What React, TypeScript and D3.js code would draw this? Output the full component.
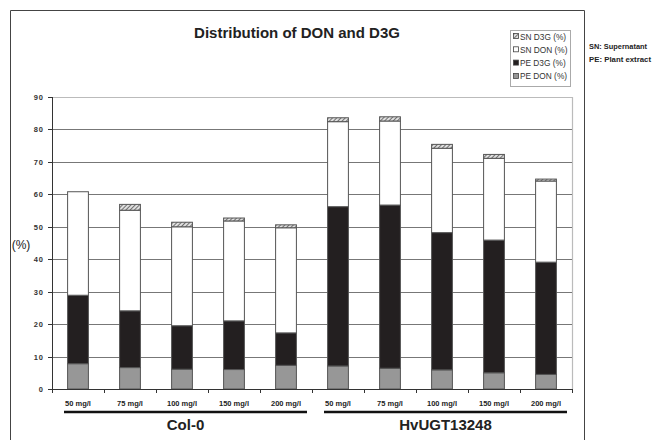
import React from "react";
import * as d3 from "d3";

const categories = [
  "50 mg/l", "75 mg/l", "100 mg/l", "150 mg/l", "200 mg/l",
  "50 mg/l ", "75 mg/l ", "100 mg/l ", "150 mg/l ", "200 mg/l ",
];
const peDON = [7.8, 6.6, 6.1, 6.0, 7.3, 7.1, 6.4, 5.9, 5.0, 4.5];
const peD3G = [21.1, 17.5, 13.4, 15.0, 10.0, 49.1, 50.3, 42.3, 40.9, 34.6];
const snDON = [31.9, 31.0, 30.5, 30.8, 32.4, 26.2, 25.9, 26.0, 25.2, 25.0];
const snD3G = [0, 1.8, 1.4, 0.9, 0.9, 1.2, 1.3, 1.2, 1.2, 0.6];
const yTicks = [0, 10, 20, 30, 40, 50, 60, 70, 80, 90];
const groups = [
  { name: "Col-0", from: 0, to: 4 },
  { name: "HvUGT13248", from: 5, to: 9 },
];
const seriesKeys = ["peDON", "peD3G", "snDON", "snD3G"];
const legendLabels = ["SN D3G (%)", "SN DON (%)", "PE D3G (%)", "PE DON (%)"];
const legendKeys = ["snD3G", "snDON", "peD3G", "peDON"];

const fills: Record<string, string> = {
  peDON: "#979797",
  peD3G: "#231f20",
  snDON: "#ffffff",
  snD3G: "url(#hatch)",
};

export default function App() {
  const left = 52, right = 572, top = 97, bottom = 389;
  const x = d3.scaleBand<string>().domain(categories).range([left, right]).paddingInner(0.6).paddingOuter(0.3);
  const band = d3.scaleBand<string>().domain(categories).range([left, right]);
  const y = d3.scaleLinear().domain([0, 90]).range([bottom, top]);

  const rows = categories.map((c, i) => ({
    cat: c, peDON: peDON[i], peD3G: peD3G[i], snDON: snDON[i], snD3G: snD3G[i],
  }));
  const stack = d3.stack<any>().keys(seriesKeys)(rows);

  const font = "Arial, 'Liberation Sans', sans-serif";
  const bw = band.bandwidth();

  return (
    <svg width={652} height={440} style={{ position: "absolute", left: 0, top: 0, background: "#fff" }}>
      <defs>
        <pattern id="hatch" patternUnits="userSpaceOnUse" width="3" height="3" patternTransform="rotate(45)">
          <rect width="3" height="3" fill="#e0e0e0" />
          <line x1="0" y1="0" x2="0" y2="3" stroke="#555" strokeWidth="1.6" />
        </pattern>
      </defs>
      <rect x={0} y={0} width={652} height={440} fill="#fff" />
      {/* outer frame */}
      <path d="M10.5,445 V10.5 H584.5 V445" fill="none" stroke="#444" strokeWidth={1} />
      {/* title */}
      <text x={297} y={38} textAnchor="middle" fontFamily={font} fontWeight="bold" fontSize={15} fill="#222">
        Distribution of DON and D3G
      </text>
      {/* plot border light */}
      <path d={`M${left},${top + 0.5} H${right + 0.5} V${bottom}`} fill="none" stroke="#bbb" strokeWidth={1.2} />
      {/* gridlines */}
      {yTicks.filter(t => t > 0 && t < 90).map(t => (
        <line key={t} x1={left} x2={right} y1={Math.round(y(t)) + 0.5} y2={Math.round(y(t)) + 0.5} stroke="#777" strokeWidth={1} />
      ))}
      {/* bars */}
      {stack.map(s => (
        <g key={s.key}>
          {s.map((d: any, i: number) => {
            const h = y(d[0]) - y(d[1]);
            if (h <= 0) return null;
            return (
              <rect key={i} x={x(categories[i])!} y={y(d[1])} width={x.bandwidth()} height={h}
                fill={fills[s.key]} stroke="#555" strokeWidth={1} />
            );
          })}
        </g>
      ))}
      {/* axes */}
      <line x1={left + 0.5} x2={left + 0.5} y1={top} y2={bottom} stroke="#333" strokeWidth={1} />
      <line x1={left} x2={right} y1={bottom + 0.5} y2={bottom + 0.5} stroke="#333" strokeWidth={1} />
      {yTicks.map(t => (
        <g key={t}>
          <line x1={left - 4} x2={left} y1={Math.round(y(t)) + 0.5} y2={Math.round(y(t)) + 0.5} stroke="#333" />
          <text x={left - 8} y={y(t) + 3} textAnchor="end" fontFamily={font} fontWeight="bold" fontSize={7.5} fill="#333" letterSpacing={1}>
            {t}
          </text>
        </g>
      ))}
      {categories.map((c, i) => (
        <g key={c}>
          <line x1={Math.round(band(c)!) + 0.5} x2={Math.round(band(c)!) + 0.5} y1={bottom} y2={bottom + 4} stroke="#333" />
          <text x={band(c)! + bw / 2} y={406} textAnchor="middle" fontFamily={font} fontWeight="bold" fontSize={7.5} fill="#222">
            {c.trim()}
          </text>
        </g>
      ))}
      <line x1={right + 0.5} x2={right + 0.5} y1={bottom} y2={bottom + 4} stroke="#333" />
      {/* y label */}
      <text x={21} y={249} textAnchor="middle" fontFamily={font} fontSize={12} fill="#222">(%)</text>
      {/* group bars */}
      {groups.map(g => {
        const x0 = band(categories[g.from])! + 12;
        const x1 = band(categories[g.to])! + bw - 5;
        return (
          <g key={g.name}>
            <line x1={x0} x2={x1} y1={412} y2={412} stroke="#111" strokeWidth={2.6} />
            <text x={(x0 + x1) / 2} y={430} textAnchor="middle" fontFamily={font} fontWeight="bold" fontSize={15} fill="#222">
              {g.name}
            </text>
          </g>
        );
      })}
      {/* legend */}
      <rect x={510.5} y={30.5} width={60} height={56} fill="#fff" stroke="#aaa" strokeWidth={1} />
      {legendKeys.map((k, i) => (
        <g key={k}>
          <rect x={513.5} y={33.5 + i * 13.3} width={5} height={5} fill={fills[k]} stroke="#444" strokeWidth={0.8} />
          <text x={520} y={39.5 + i * 13.3} fontFamily={font} fontSize={8.3} fill="#333">{legendLabels[i]}</text>
        </g>
      ))}
      {/* notes */}
      <text x={589} y={49} fontFamily={font} fontWeight="bold" fontSize={8} fill="#222" textLength={58} lengthAdjust="spacingAndGlyphs">SN: Supernatant</text>
      <text x={589} y={62} fontFamily={font} fontWeight="bold" fontSize={8} fill="#222" textLength={62} lengthAdjust="spacingAndGlyphs">PE: Plant extract</text>
    </svg>
  );
}
